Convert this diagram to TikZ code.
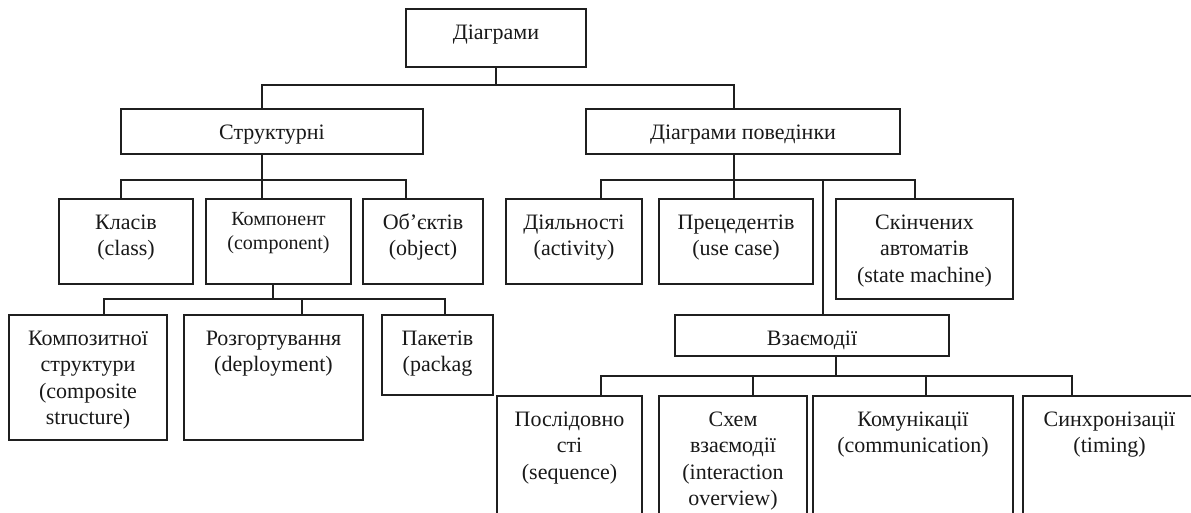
\documentclass[tikz,border=0pt]{standalone}
\usepackage{fontspec}
\setmainfont{Liberation Serif}
\tikzset{
  box/.style={draw=black!88, line width=1.5pt, rectangle, inner sep=0pt, fill=none},
  lblbase/.style={anchor=north, inner sep=0pt, align=center, text=black!90},
  lbl/.style={lblbase, yshift=-11pt, font=\fontsize{22}{26.5}\selectfont},
  lblsmall/.style={lblbase, yshift=-7pt, font=\fontsize{20}{24.5}\selectfont},
  conn/.style={draw=black!88, line width=1.5pt}
}
\newcommand{\mybox}[7][lbl]{%
  \node[box, minimum width={#4-#3}, minimum height={#6-#5},
        label={[#1]north:{\rule{0pt}{20pt}#7}}] (#2) at ({(#3+#4)/2},{(#5+#6)/2}) {};}
\begin{document}
\begin{tikzpicture}[x=1pt,y=-1pt]
\clip (0,0) rectangle (1191,513);
\fill[white] (0,0) rectangle (1191,513);
% level 0
\mybox{top}{406}{586}{9}{67}{Діаграми}
% level 1
\mybox{struct}{121}{423}{109}{154}{Структурні}
\mybox{behav}{586}{900}{109}{154}{Діаграми поведінки}
% level 2
\mybox{cls}{59}{193}{199}{284}{Класів\\(class)}
\mybox[lblsmall]{comp}{206}{351}{199}{284}{Компонент\\(component)}
\mybox{obj}{363}{483}{199}{284}{Об’єктів\\(object)}
\mybox{act}{506}{642}{199}{284}{Діяльності\\(activity)}
\mybox{uc}{659}{813}{199}{284}{Прецедентів\\(use case)}
\mybox{sm}{836}{1013}{199}{299}{Скінчених\\автоматів\\(state machine)}
% level 3
\mybox{compst}{9}{167}{315}{440}{Композитної\\структури\\(composite\\structure)}
\mybox{depl}{184}{363}{315}{440}{Розгортування\\(deployment)}
\mybox{pkg}{382}{493}{315}{395}{Пакетів\\(packag}
\mybox{inter}{675}{949}{315}{356}{Взаємодії}
% level 4
\mybox{seq}{497}{642}{396}{560}{Послідовно\\сті\\(sequence)}
\mybox{ov}{659}{807}{396}{560}{Схем\\взаємодії\\(interaction\\overview)}
\mybox{comm}{813}{1013}{396}{560}{Комунікації\\(communication)}
\mybox{timing}{1023}{1196}{396}{560}{Синхронізації\\(timing)}
% junction coordinates
\coordinate (b1) at (262,85);
\coordinate (b2) at (734,85);
\coordinate (c1) at (121,180);
\coordinate (c2) at (406,180);
\coordinate (d1) at (601,180);
\coordinate (d2) at (915,180);
\coordinate (d3) at (823,180);
\coordinate (e0) at (273,299);
\coordinate (e1) at (104,299);
\coordinate (e2) at (445,299);
\coordinate (e3) at (302,299);
\coordinate (f0) at (836,376);
\coordinate (f1) at (601,376);
\coordinate (f2) at (1072,376);
\coordinate (f3) at (753,376);
\coordinate (f4) at (926,376);
% connectors
\draw[conn] (top.south) -- (top.south |- b1);
\draw[conn] (struct.north -| b1) |- (b2) -- (behav.north -| b2);
\draw[conn] (struct.south -| b1) -- (comp.north -| b1);
\draw[conn] (cls.north -| c1) |- (c2) -- (obj.north -| c2);
\draw[conn] (behav.south -| b2) -- (uc.north -| b2);
\draw[conn] (act.north -| d1) |- (d2) -- (sm.north -| d2);
\draw[conn] (d3) -- (inter.north -| d3);
\draw[conn] (comp.south -| e0) -- (e0);
\draw[conn] (compst.north -| e1) |- (e2) -- (pkg.north -| e2);
\draw[conn] (e3) -- (depl.north -| e3);
\draw[conn] (inter.south -| f0) -- (f0);
\draw[conn] (seq.north -| f1) |- (f2) -- (timing.north -| f2);
\draw[conn] (f3) -- (ov.north -| f3);
\draw[conn] (f4) -- (comm.north -| f4);
\end{tikzpicture}
\end{document}
